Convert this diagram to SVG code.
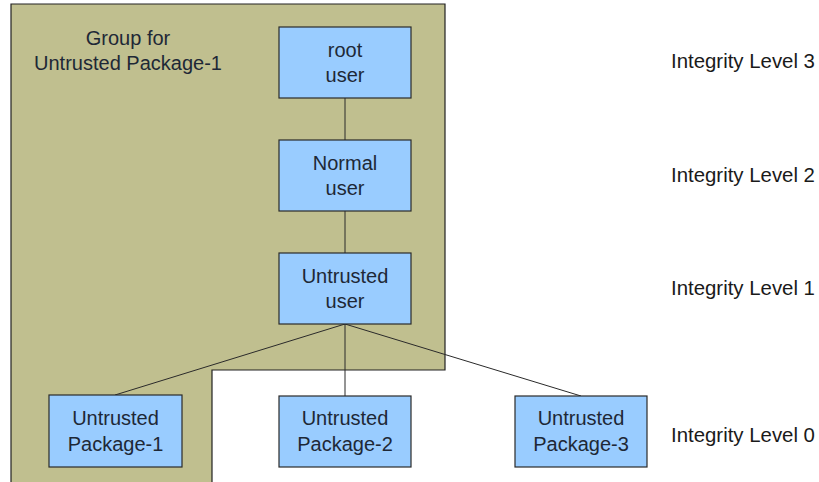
<svg xmlns="http://www.w3.org/2000/svg" width="819" height="482" viewBox="0 0 819 482">
  <style>
    .group { fill: #c0bf8f; stroke: #222; stroke-width: 1.2; }
    .box { fill: #99ccff; stroke: #2a2a2a; stroke-width: 1.2; }
    .lbl { font-family: "Liberation Sans", Arial, sans-serif; font-size: 20px; fill: #1e2836; text-anchor: middle; }
    .lvl { font-family: "Liberation Sans", Arial, sans-serif; font-size: 20.4px; fill: #1a1a1a; }
    .conn line { stroke: #2a2a2a; stroke-width: 1; }
  </style>
  <rect width="819" height="482" fill="#ffffff"/>

  <!-- package group region -->
  <g id="group-package-1">
    <polygon class="group" points="11,4 445,4 445,370 212,370 212,490 11,490"/>
    <text class="lbl" x="128" y="45">Group for</text>
    <text class="lbl" x="128" y="70">Untrusted Package-1</text>
  </g>

  <!-- connectors -->
  <g id="connectors" class="conn">
    <line x1="345" y1="98" x2="345" y2="140"/>
    <line x1="345" y1="211" x2="345" y2="253"/>
    <line x1="345" y1="324" x2="115" y2="395"/>
    <line x1="345" y1="324" x2="345" y2="396"/>
    <line x1="345" y1="324" x2="581" y2="396"/>
  </g>

  <g id="root-user">
    <rect class="box" x="279" y="27" width="132" height="71"/>
    <text class="lbl" x="345" y="57">root</text>
    <text class="lbl" x="345" y="82">user</text>
  </g>

  <g id="normal-user">
    <rect class="box" x="279" y="140" width="132" height="71"/>
    <text class="lbl" x="345" y="170">Normal</text>
    <text class="lbl" x="345" y="195">user</text>
  </g>

  <g id="untrusted-user">
    <rect class="box" x="279" y="253" width="132" height="71"/>
    <text class="lbl" x="345" y="283">Untrusted</text>
    <text class="lbl" x="345" y="308">user</text>
  </g>

  <g id="package-1">
    <rect class="box" x="49" y="395" width="133" height="72"/>
    <text class="lbl" x="115.5" y="425">Untrusted</text>
    <text class="lbl" x="115.5" y="451">Package-1</text>
  </g>

  <g id="package-2">
    <rect class="box" x="279" y="396" width="132" height="71"/>
    <text class="lbl" x="345" y="425">Untrusted</text>
    <text class="lbl" x="345" y="451">Package-2</text>
  </g>

  <g id="package-3">
    <rect class="box" x="515" y="396" width="132" height="71"/>
    <text class="lbl" x="581" y="425">Untrusted</text>
    <text class="lbl" x="581" y="451">Package-3</text>
  </g>

  <!-- integrity level labels -->
  <g id="levels">
    <text class="lvl" x="671" y="68">Integrity Level 3</text>
    <text class="lvl" x="671" y="182">Integrity Level 2</text>
    <text class="lvl" x="671" y="295">Integrity Level 1</text>
    <text class="lvl" x="671" y="442">Integrity Level 0</text>
  </g>
</svg>
